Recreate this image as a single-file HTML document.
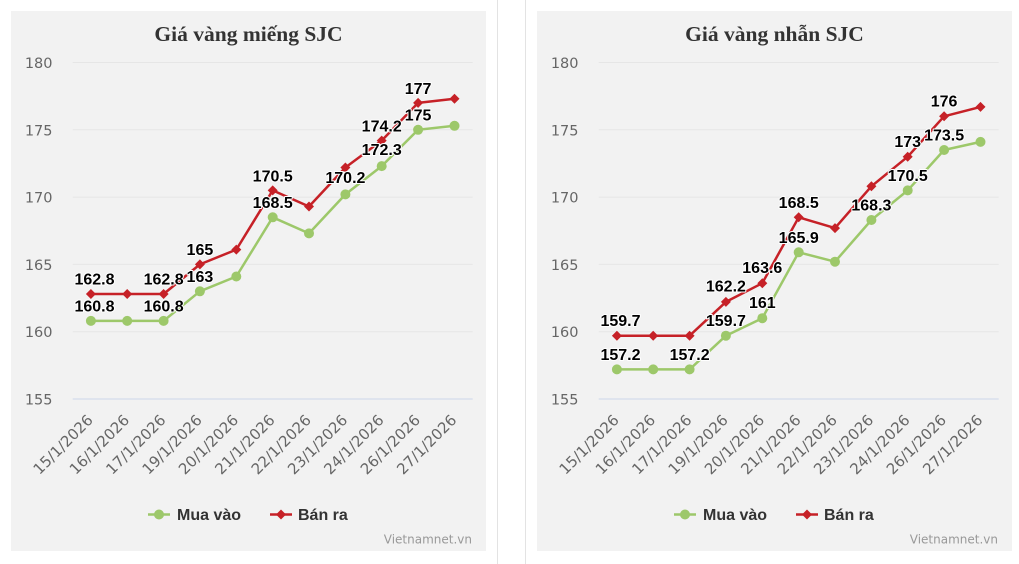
<!DOCTYPE html>
<html><head><meta charset="utf-8"><style>
html,body{margin:0;padding:0;background:#fff;}
svg{display:block;}
.t{font-family:"Liberation Serif",serif;font-weight:bold;font-size:21.5px;fill:#333;}
.ya{font-family:"DejaVu Sans",sans-serif;font-size:14.5px;fill:#666;}
.xa{font-family:"DejaVu Sans",sans-serif;font-size:15px;fill:#666;}
.dl{font-family:"Liberation Sans",sans-serif;font-weight:bold;font-size:16px;fill:#000;stroke:#fff;stroke-width:2px;paint-order:stroke;stroke-linejoin:round;text-anchor:middle;}
.lg{font-family:"Liberation Sans",sans-serif;font-weight:bold;font-size:16px;fill:#333;}
.cr{font-family:"DejaVu Sans",sans-serif;font-size:12px;fill:#999;}
</style></head><body>
<svg width="1019" height="564" viewBox="0 0 1019 564" xmlns="http://www.w3.org/2000/svg">
<defs>
<path id="dm" d="M0,-5L5,0L0,5L-5,0Z" fill="#c62127"/>
<g id="axes">
  <rect x="11" y="11" width="475" height="540" fill="#f2f2f2"/>
  <g stroke="#e6e6e6" stroke-width="1">
    <line x1="72.7" y1="62.5" x2="472.7" y2="62.5"/>
    <line x1="72.7" y1="129.8" x2="472.7" y2="129.8"/>
    <line x1="72.7" y1="197.1" x2="472.7" y2="197.1"/>
    <line x1="72.7" y1="264.4" x2="472.7" y2="264.4"/>
    <line x1="72.7" y1="331.7" x2="472.7" y2="331.7"/>
  </g>
  <line x1="72.7" y1="399" x2="472.7" y2="399" stroke="#ccd6eb" stroke-width="1"/>
  <g class="ya" text-anchor="end">
    <text x="52.5" y="68">180</text>
    <text x="52.5" y="135.3">175</text>
    <text x="52.5" y="202.6">170</text>
    <text x="52.5" y="269.9">165</text>
    <text x="52.5" y="337.2">160</text>
    <text x="52.5" y="404.5">155</text>
  </g>
  <g class="xa" text-anchor="end">
    <text transform="translate(93.9,421) rotate(-45)">15/1/2026</text>
    <text transform="translate(130.2,421) rotate(-45)">16/1/2026</text>
    <text transform="translate(166.6,421) rotate(-45)">17/1/2026</text>
    <text transform="translate(202.9,421) rotate(-45)">19/1/2026</text>
    <text transform="translate(239.3,421) rotate(-45)">20/1/2026</text>
    <text transform="translate(275.7,421) rotate(-45)">21/1/2026</text>
    <text transform="translate(312,421) rotate(-45)">22/1/2026</text>
    <text transform="translate(348.4,421) rotate(-45)">23/1/2026</text>
    <text transform="translate(384.7,421) rotate(-45)">24/1/2026</text>
    <text transform="translate(421.1,421) rotate(-45)">26/1/2026</text>
    <text transform="translate(457.5,421) rotate(-45)">27/1/2026</text>
  </g>
  <line x1="148" y1="514.5" x2="170" y2="514.5" stroke="#9dc86a" stroke-width="2.5"/>
  <circle cx="159" cy="514.5" r="5" fill="#9dc86a"/>
  <text class="lg" x="177" y="520">Mua vào</text>
  <line x1="270" y1="514.5" x2="292" y2="514.5" stroke="#c62127" stroke-width="2.5"/>
  <use href="#dm" x="281" y="514.5"/>
  <text class="lg" x="298" y="520">Bán ra</text>
  <text class="cr" x="472" y="543.5" text-anchor="end">Vietnamnet.vn</text>
</g>
</defs>
<rect width="1019" height="564" fill="#fff"/>
<line x1="497.5" y1="0" x2="497.5" y2="564" stroke="#e3e3e3" stroke-width="1"/>
<line x1="525.5" y1="0" x2="525.5" y2="564" stroke="#e3e3e3" stroke-width="1"/>

<!-- LEFT CHART -->
<g>
  <use href="#axes"/>
  <text class="t" x="248.5" y="41" text-anchor="middle">Giá vàng miếng SJC</text>
  <polyline fill="none" stroke="#9dc86a" stroke-width="2.5" stroke-linejoin="round" points="90.9,320.9 127.2,320.9 163.6,320.9 199.9,291.3 236.3,276.5 272.7,217.3 309,233.4 345.4,194.4 381.7,166.1 418.1,129.8 454.5,125.8"/>
  <g fill="#9dc86a">
    <circle cx="90.9" cy="320.9" r="5"/><circle cx="127.2" cy="320.9" r="5"/><circle cx="163.6" cy="320.9" r="5"/><circle cx="199.9" cy="291.3" r="5"/><circle cx="236.3" cy="276.5" r="5"/><circle cx="272.7" cy="217.3" r="5"/><circle cx="309" cy="233.4" r="5"/><circle cx="345.4" cy="194.4" r="5"/><circle cx="381.7" cy="166.1" r="5"/><circle cx="418.1" cy="129.8" r="5"/><circle cx="454.5" cy="125.8" r="5"/>
  </g>
  <polyline fill="none" stroke="#c62127" stroke-width="2.5" stroke-linejoin="round" points="90.9,294 127.2,294 163.6,294 199.9,264.4 236.3,249.6 272.7,190.4 309,206.5 345.4,167.5 381.7,140.6 418.1,102.9 454.5,98.8"/>
  <use href="#dm" x="90.9" y="294"/><use href="#dm" x="127.2" y="294"/><use href="#dm" x="163.6" y="294"/><use href="#dm" x="199.9" y="264.4"/><use href="#dm" x="236.3" y="249.6"/><use href="#dm" x="272.7" y="190.4"/><use href="#dm" x="309" y="206.5"/><use href="#dm" x="345.4" y="167.5"/><use href="#dm" x="381.7" y="140.6"/><use href="#dm" x="418.1" y="102.9"/><use href="#dm" x="454.5" y="98.8"/>
  <text class="dl" x="94.5" y="311.4">160.8</text>
  <text class="dl" x="163.6" y="311.4">160.8</text>
  <text class="dl" x="199.9" y="281.8">163</text>
  <text class="dl" x="272.7" y="207.8">168.5</text>
  <text class="dl" x="345.4" y="183">170.2</text>
  <text class="dl" x="381.7" y="155">172.3</text>
  <text class="dl" x="418.1" y="120.5">175</text>
  <text class="dl" x="94.5" y="284.5">162.8</text>
  <text class="dl" x="163.6" y="284.5">162.8</text>
  <text class="dl" x="199.9" y="254.9">165</text>
  <text class="dl" x="272.7" y="181.5">170.5</text>
  <text class="dl" x="381.7" y="131.5">174.2</text>
  <text class="dl" x="418.1" y="94">177</text>
</g>

<!-- RIGHT CHART -->
<g transform="translate(526,0)">
  <use href="#axes"/>
  <text class="t" x="248.5" y="41" text-anchor="middle">Giá vàng nhẫn SJC</text>
  <polyline fill="none" stroke="#9dc86a" stroke-width="2.5" stroke-linejoin="round" points="90.9,369.4 127.2,369.4 163.6,369.4 199.9,335.7 236.3,318.2 272.7,252.3 309,261.7 345.4,220 381.7,190.4 418.1,150 454.5,141.9"/>
  <g fill="#9dc86a">
    <circle cx="90.9" cy="369.4" r="5"/><circle cx="127.2" cy="369.4" r="5"/><circle cx="163.6" cy="369.4" r="5"/><circle cx="199.9" cy="335.7" r="5"/><circle cx="236.3" cy="318.2" r="5"/><circle cx="272.7" cy="252.3" r="5"/><circle cx="309" cy="261.7" r="5"/><circle cx="345.4" cy="220" r="5"/><circle cx="381.7" cy="190.4" r="5"/><circle cx="418.1" cy="150" r="5"/><circle cx="454.5" cy="141.9" r="5"/>
  </g>
  <polyline fill="none" stroke="#c62127" stroke-width="2.5" stroke-linejoin="round" points="90.9,335.7 127.2,335.7 163.6,335.7 199.9,301.9 236.3,283.2 272.7,217.3 309,228.1 345.4,186.3 381.7,156.7 418.1,116.3 454.5,106.9"/>
  <use href="#dm" x="90.9" y="335.7"/><use href="#dm" x="127.2" y="335.7"/><use href="#dm" x="163.6" y="335.7"/><use href="#dm" x="199.9" y="301.9"/><use href="#dm" x="236.3" y="283.2"/><use href="#dm" x="272.7" y="217.3"/><use href="#dm" x="309" y="228.1"/><use href="#dm" x="345.4" y="186.3"/><use href="#dm" x="381.7" y="156.7"/><use href="#dm" x="418.1" y="116.3"/><use href="#dm" x="454.5" y="106.9"/>
  <text class="dl" x="94.5" y="359.9">157.2</text>
  <text class="dl" x="163.6" y="359.9">157.2</text>
  <text class="dl" x="199.9" y="326.2">159.7</text>
  <text class="dl" x="236.3" y="308">161</text>
  <text class="dl" x="272.7" y="242.8">165.9</text>
  <text class="dl" x="345.4" y="210.5">168.3</text>
  <text class="dl" x="381.7" y="181">170.5</text>
  <text class="dl" x="418.1" y="140.3">173.5</text>
  <text class="dl" x="94.5" y="326.2">159.7</text>
  <text class="dl" x="199.9" y="291.5">162.2</text>
  <text class="dl" x="236.3" y="273">163.6</text>
  <text class="dl" x="272.7" y="207.8">168.5</text>
  <text class="dl" x="381.7" y="146.8">173</text>
  <text class="dl" x="418.1" y="106.3">176</text>
</g>
</svg>
</body></html>
